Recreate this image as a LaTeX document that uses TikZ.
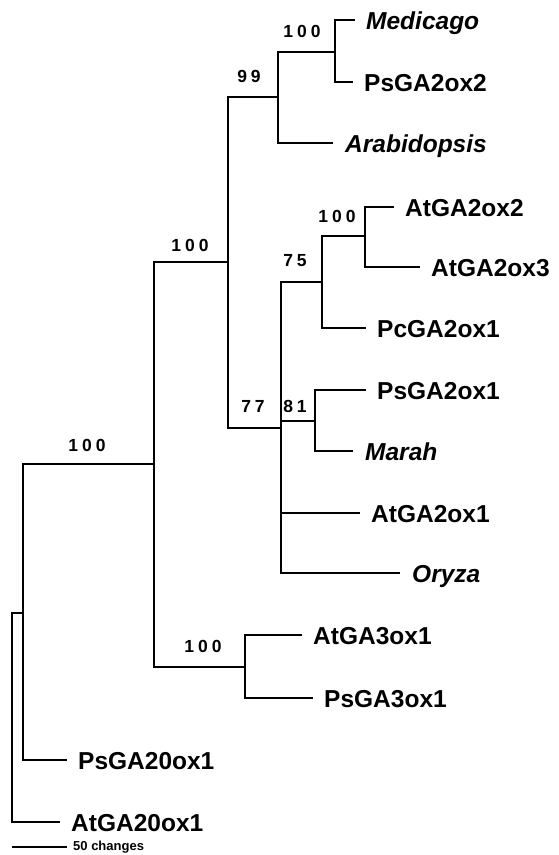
\documentclass[tikz,border=0pt]{standalone}
\usepackage{fontspec}
\setmainfont{Liberation Sans}
\begin{document}
\begin{tikzpicture}[x=1pt,y=-1pt,
  hbr/.style={line width=1.8pt},
  vbr/.style={line width=1.3pt, line cap=rect},
  gene/.style={anchor=base west, inner sep=0pt, font=\fontsize{24.5pt}{28pt}\selectfont\bfseries},
  boot/.style={anchor=base, inner sep=0pt, font=\fontsize{17.5pt}{20pt}\selectfont\bfseries},
  scaletext/.style={anchor=base west, inner sep=0pt, font=\fontsize{13pt}{15pt}\selectfont\bfseries}
]
\useasboundingbox (0,0) rectangle (558,855);
\fill[white] (0,0) rectangle (558,855);

% internal nodes (end of each stem)
\coordinate (nR) at (12,717);
\coordinate (nI) at (23,613);
\coordinate (nH) at (154,464);
\coordinate (nC) at (228,262);
\coordinate (nB) at (278,97);
\coordinate (nA) at (335,52);
\coordinate (nG) at (281,428);
\coordinate (nE) at (322,282);
\coordinate (nD) at (365,236);
\coordinate (nF) at (315,421);
\coordinate (nJ) at (245,667);

% tips (end of each terminal branch)
\coordinate (tMed) at (355,20);
\coordinate (tPs2) at (353,82);
\coordinate (tAra) at (333,143);
\coordinate (tAt2) at (394,207);
\coordinate (tAt3) at (420,267);
\coordinate (tPc1) at (366,328);
\coordinate (tPs1) at (366,390);
\coordinate (tMar) at (353,451);
\coordinate (tAt1) at (360,513);
\coordinate (tOry) at (400,573);
\coordinate (tAt3ox) at (302,635);
\coordinate (tPs3ox) at (313,698);
\coordinate (tPsG20) at (67,760);
\coordinate (tAtG20) at (60,822);

% horizontal branches
\draw[hbr] (nR |- nI) -- (nI);
\draw[hbr] (nI |- nH) -- (nH);
\draw[hbr] (nI |- tPsG20) -- (tPsG20);
\draw[hbr] (nR |- tAtG20) -- (tAtG20);
\draw[hbr] (nH |- nC) -- (nC);
\draw[hbr] (nH |- nJ) -- (nJ);
\draw[hbr] (nC |- nB) -- (nB);
\draw[hbr] (nC |- nG) -- (nG);
\draw[hbr] (nB |- nA) -- (nA);
\draw[hbr] (nB |- tAra) -- (tAra);
\draw[hbr] (nA |- tMed) -- (tMed);
\draw[hbr] (nA |- tPs2) -- (tPs2);
\draw[hbr] (nG |- nE) -- (nE);
\draw[hbr] (nG |- nF) -- (nF);
\draw[hbr] (nG |- tAt1) -- (tAt1);
\draw[hbr] (nG |- tOry) -- (tOry);
\draw[hbr] (nE |- nD) -- (nD);
\draw[hbr] (nE |- tPc1) -- (tPc1);
\draw[hbr] (nD |- tAt2) -- (tAt2);
\draw[hbr] (nD |- tAt3) -- (tAt3);
\draw[hbr] (nF |- tPs1) -- (tPs1);
\draw[hbr] (nF |- tMar) -- (tMar);
\draw[hbr] (nJ |- tAt3ox) -- (tAt3ox);
\draw[hbr] (nJ |- tPs3ox) -- (tPs3ox);

% vertical connectors
\draw[vbr] (nR |- nI) -- (nR |- tAtG20);
\draw[vbr] (nI |- nH) -- (nI |- tPsG20);
\draw[vbr] (nH |- nC) -- (nH |- nJ);
\draw[vbr] (nC |- nB) -- (nC |- nG);
\draw[vbr] (nB |- nA) -- (nB |- tAra);
\draw[vbr] (nA |- tMed) -- (nA |- tPs2);
\draw[vbr] (nG |- nE) -- (nG |- tOry);
\draw[vbr] (nE |- nD) -- (nE |- tPc1);
\draw[vbr] (nD |- tAt2) -- (nD |- tAt3);
\draw[vbr] (nF |- tPs1) -- (nF |- tMar);
\draw[vbr] (nJ |- tAt3ox) -- (nJ |- tPs3ox);

% taxon labels
\node[gene] (lMed) at ([shift={(11,9)}]tMed) {\itshape Medicago};
\node[gene] (lPs2) at ([shift={(11,9)}]tPs2) {PsGA2ox2};
\node[gene] (lAra) at ([shift={(12,9)}]tAra) {\itshape Arabidopsis};
\node[gene] (lAt2) at ([shift={(11,9)}]tAt2) {AtGA2ox2};
\node[gene] (lAt3) at ([shift={(11,9)}]tAt3) {AtGA2ox3};
\node[gene] (lPc1) at ([shift={(11,9)}]tPc1) {PcGA2ox1};
\node[gene] (lPs1) at ([shift={(11,9)}]tPs1) {PsGA2ox1};
\node[gene] (lMar) at ([shift={(12,9)}]tMar) {\itshape Marah};
\node[gene] (lAt1) at ([shift={(11,9)}]tAt1) {AtGA2ox1};
\node[gene] (lOry) at ([shift={(12,9)}]tOry) {\itshape Oryza};
\node[gene] (lAt3ox) at ([shift={(11,9)}]tAt3ox) {AtGA3ox1};
\node[gene] (lPs3ox) at ([shift={(11,9)}]tPs3ox) {PsGA3ox1};
\node[gene] (lPsG20) at ([shift={(11,9)}]tPsG20) {PsGA20ox1};
\node[gene] (lAtG20) at ([shift={(11,9)}]tAtG20) {AtGA20ox1};

% bootstrap values
\node[boot] (bA) at (302,37) {1\kern4pt0\kern4pt0};
\node[boot] (bB) at (249,82) {9\kern4pt9};
\node[boot] (bC) at (190,251) {1\kern4pt0\kern4pt0};
\node[boot] (bD) at (337,222) {1\kern4pt0\kern4pt0};
\node[boot] (bE) at (295,266) {7\kern4pt5};
\node[boot] (bG) at (253,412) {7\kern4pt7};
\node[boot] (bF) at (295,412) {8\kern4pt1};
\node[boot] (bH) at (87,451) {1\kern4pt0\kern4pt0};
\node[boot] (bJ) at (203,652) {1\kern4pt0\kern4pt0};

% scale bar
\coordinate (sb0) at (12,847);
\coordinate (sb1) at (67,847);
\draw[line width=1.3pt] (sb0) -- (sb1);
\node[scaletext] (sbl) at ([shift={(6,3)}]sb1) {50 changes};
\end{tikzpicture}
\end{document}
